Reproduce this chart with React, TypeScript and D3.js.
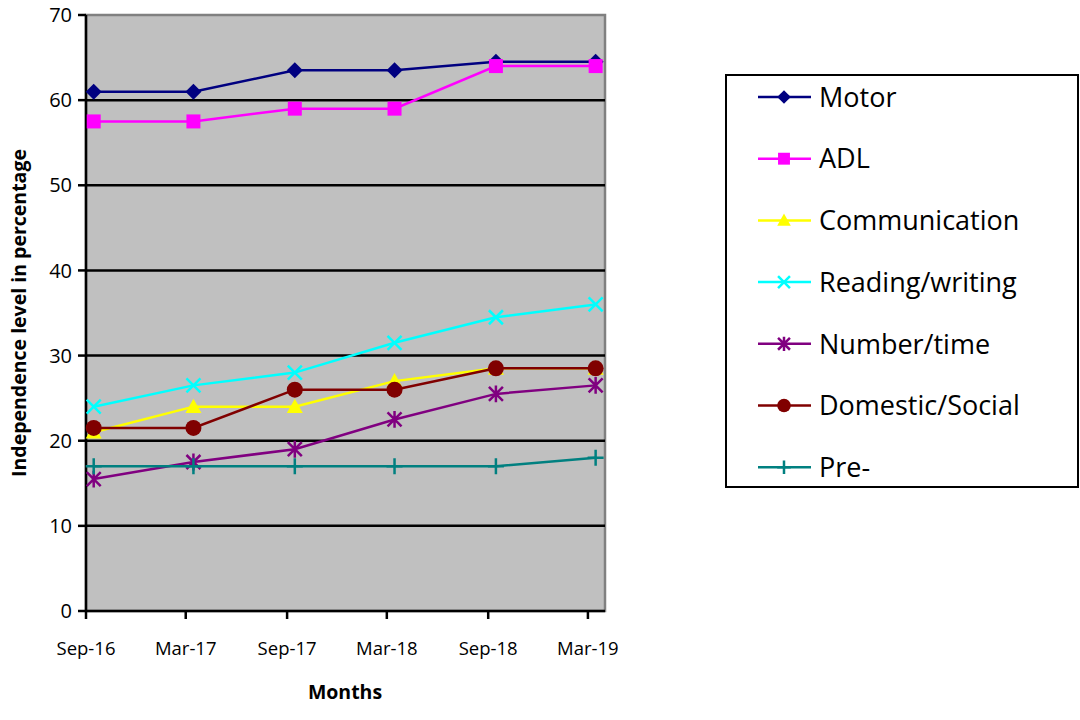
import React from "react";
import * as d3 from "d3";

const dates = ["2016-09-15", "2017-03-15", "2017-09-15", "2018-03-15", "2018-09-15", "2019-03-15"];
const tickDates = ["2016-09-01", "2017-03-01", "2017-09-01", "2018-03-01", "2018-09-01", "2019-03-01"];
const tickLabels = ["Sep-16", "Mar-17", "Sep-17", "Mar-18", "Sep-18", "Mar-19"];
const yTicks = [0, 10, 20, 30, 40, 50, 60, 70];

const motor = [61, 61, 63.5, 63.5, 64.5, 64.5];
const adl = [57.5, 57.5, 59, 59, 64, 64];
const communication = [21, 24, 24, 27, 28.5, 28.5];
const reading = [24, 26.5, 28, 31.5, 34.5, 36];
const numberTime = [15.5, 17.5, 19, 22.5, 25.5, 26.5];
const domestic = [21.5, 21.5, 26, 26, 28.5, 28.5];
const pre = [17, 17, 17, 17, 17, 18];

type Series = { name: string; values: number[]; color: string; marker: string };

const series: Series[] = [
  { name: "Motor", values: motor, color: "#000080", marker: "diamond" },
  { name: "ADL", values: adl, color: "#FF00FF", marker: "square" },
  { name: "Communication", values: communication, color: "#FFFF00", marker: "triangle" },
  { name: "Reading/writing", values: reading, color: "#00FFFF", marker: "x" },
  { name: "Number/time", values: numberTime, color: "#800080", marker: "star" },
  { name: "Domestic/Social", values: domestic, color: "#800000", marker: "circle" },
  { name: "Pre-", values: pre, color: "#008080", marker: "plus" },
];

const W = 1080;
const H = 720;
const left = 86;
const right = 605;
const top = 15;
const bottom = 611;
const font = "'Open Sans', sans-serif";

const parse = d3.timeParse("%Y-%m-%d");

const x = d3
  .scaleTime()
  .domain([parse("2016-09-01")!, parse("2019-04-01")!])
  .range([left, right]);
const y = d3.scaleLinear().domain([0, 70]).range([bottom, top]);

function Marker({ kind, cx, cy, color, s = 1 }: { kind: string; cx: number; cy: number; color: string; s?: number }) {
  const sw = 2.5;
  switch (kind) {
    case "diamond": {
      const r = 8 * s;
      return <path d={`M${cx},${cy - r}L${cx + r},${cy}L${cx},${cy + r}L${cx - r},${cy}Z`} fill={color} />;
    }
    case "square": {
      const r = 7 * s;
      return <rect x={cx - r} y={cy - r} width={2 * r} height={2 * r} fill={color} />;
    }
    case "triangle": {
      const r = 8 * s;
      return <path d={`M${cx},${cy - r}L${cx + r},${cy + r * 0.8}L${cx - r},${cy + r * 0.8}Z`} fill={color} />;
    }
    case "x": {
      const r = 7 * s;
      return (
        <path
          d={`M${cx - r},${cy - r}L${cx + r},${cy + r}M${cx - r},${cy + r}L${cx + r},${cy - r}`}
          stroke={color}
          strokeWidth={sw}
        />
      );
    }
    case "star": {
      const r = 7 * s;
      return (
        <path
          d={`M${cx - r},${cy - r}L${cx + r},${cy + r}M${cx - r},${cy + r}L${cx + r},${cy - r}M${cx},${cy - r * 1.2}L${cx},${cy + r * 1.2}`}
          stroke={color}
          strokeWidth={sw}
        />
      );
    }
    case "circle":
      return <circle cx={cx} cy={cy} r={8 * s} fill={color} />;
    case "plus": {
      const r = 8 * s;
      return (
        <path d={`M${cx},${cy - r}L${cx},${cy + r}M${cx - r},${cy}L${cx + r},${cy}`} stroke={color} strokeWidth={sw} />
      );
    }
    default:
      return null;
  }
}

export default function App() {
  const line = d3
    .line<number>()
    .x((_, i) => x(parse(dates[i])!))
    .y((d) => y(d));

  const legendTop = 97;
  const legendStep = 61.7;

  return (
    <svg
      width={W}
      height={H}
      viewBox={`0 0 ${W} ${H}`}
      style={{ position: "absolute", left: 0, top: 0, background: "#fff" }}
    >
      {/* plot area */}
      <rect x={left} y={top} width={right - left} height={bottom - top} fill="#C0C0C0" stroke="#808080" strokeWidth={2.5} />

      {yTicks
        .filter((t) => t > 0 && t < 70)
        .map((t) => (
          <line key={t} x1={left} x2={right} y1={y(t)} y2={y(t)} stroke="#000" strokeWidth={2.5} />
        ))}

      {/* axes */}
      <line x1={left} x2={left} y1={top} y2={bottom} stroke="#000" strokeWidth={2.5} />
      <line x1={left} x2={right} y1={bottom} y2={bottom} stroke="#000" strokeWidth={2.5} />

      {yTicks.map((t) => (
        <g key={t}>
          <line x1={left - 8} x2={left} y1={y(t)} y2={y(t)} stroke="#000" strokeWidth={2.5} />
          <text x={left - 14} y={y(t)} dy="0.36em" textAnchor="end" fontFamily={font} fontSize={20} fill="#000">
            {t}
          </text>
        </g>
      ))}

      {tickDates.map((d, i) => {
        const tx = x(parse(d)!);
        return (
          <g key={d}>
            <line x1={tx} x2={tx} y1={bottom} y2={bottom + 8} stroke="#000" strokeWidth={2.5} />
            <text x={tx} y={655} textAnchor="middle" fontFamily={font} fontSize={18.5} fill="#000">
              {tickLabels[i]}
            </text>
          </g>
        );
      })}

      <text x={345} y={699} textAnchor="middle" fontFamily={font} fontSize={19.5} fontWeight="bold" fill="#000">
        Months
      </text>
      <text
        transform={`translate(26,${(top + bottom) / 2}) rotate(-90)`}
        textAnchor="middle"
        fontFamily={font}
        fontSize={19.5}
        fontWeight="bold"
        fill="#000"
      >
        Independence level in percentage
      </text>

      {/* series */}
      {series.map((s) => (
        <g key={s.name}>
          <path d={line(s.values) ?? ""} fill="none" stroke={s.color} strokeWidth={2.5} />
          {s.values.map((v, i) => (
            <Marker key={i} kind={s.marker} cx={x(parse(dates[i])!)} cy={y(v)} color={s.color} />
          ))}
        </g>
      ))}

      {/* legend */}
      <rect x={726} y={75} width={352} height={412} fill="#fff" stroke="#000" strokeWidth={2} />
      {series.map((s, i) => {
        const ly = legendTop + i * legendStep;
        return (
          <g key={s.name}>
            <line x1={758} x2={811} y1={ly} y2={ly} stroke={s.color} strokeWidth={2.5} />
            <Marker kind={s.marker} cx={784} cy={ly} color={s.color} s={0.85} />
            <text x={819} y={ly} dy="0.36em" fontFamily={font} fontSize={27} fill="#000">
              {s.name}
            </text>
          </g>
        );
      })}
    </svg>
  );
}
